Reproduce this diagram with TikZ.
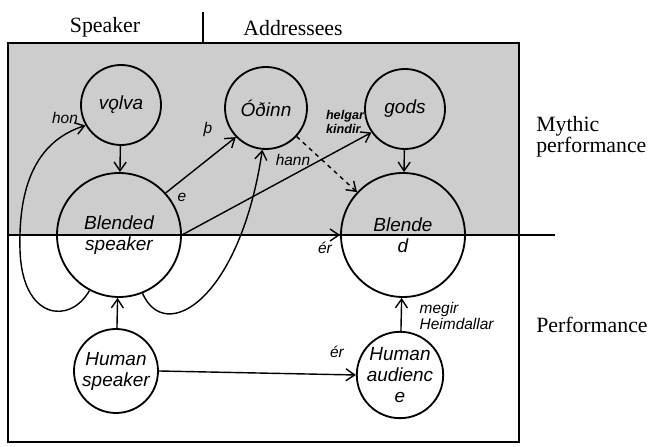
\documentclass[tikz,border=0pt]{standalone}
\usepackage{fontspec}
\setmainfont{Liberation Serif}
\setsansfont{Liberation Sans}
\usepackage{tikz}
\usetikzlibrary{arrows.meta, positioning}
\definecolor{mythgray}{HTML}{CDCDCD}

\begin{document}
\begin{tikzpicture}[
    space/.style={circle, draw, line width=1.3pt, inner sep=0pt, align=center,
                  minimum size=#1, font=\sffamily\itshape\fontsize{13.5}{15}\selectfont},
    space/.default=2cm,
    lbl/.style={font=\sffamily\itshape\fontsize{11}{12}\selectfont, inner sep=1pt},
    head/.style={font=\fontsize{15.5}{13}\selectfont, inner sep=0pt, align=left},
    arrow/.style={-{Straight Barb[length=2.2mm, width=3mm]}, line width=1pt}
]
\useasboundingbox (0,0) rectangle (16.325,11.175);

% Mythic performance area and frame
\fill[mythgray] (0.2,5.3) rectangle (12.975,10.1);
\draw[line width=1.4pt] (0.2,0.125) rectangle (12.975,10.1);
\draw[line width=1.1pt] (0.2,5.3) -- (13.875,5.3);
\draw[line width=1.1pt] (5.075,10.1) -- (5.075,10.875);

% Column and row headings
\node[head] at (2.625,10.5) (hspeaker) {Speaker};
\node[head] at (7.325,10.475) (haddr) {Addressees};
\node[head, anchor=west] at (13.4,7.75) (hmythic) {Mythic\\performance};
\node[head, anchor=west] at (13.4,3.05) (hperf) {Performance};

% Mental spaces
\node[space] at (3.025,8.55) (volva) {vǫlva};
\node[space=2.05cm] at (6.65,8.475) (odinn) {Óðinn};
\node[space] at (10.125,8.45) (gods) {gods};
\node[space=3.1cm] at (2.975,5.3) (bspk) {Blended\\speaker};
\node[space=3.1cm] at (10.075,5.3) (bld) {Blende\\d};
\node[space=2.1cm] at (2.9,1.9) (hspk) {Human\\speaker};
\node[space=2.1cm] at (10.0,1.8) (haud) {Human\\audienc\\e};

% Arrows
\draw[arrow] (volva) -- (bspk);
\draw[arrow] (gods) -- (bld);
\draw[arrow] (bspk.42) -- (odinn.224);
\draw[arrow] (bspk.east) -- (gods.215);
\draw[arrow] (bspk.east) -- (bld.west);
\draw[arrow, dashed] (odinn.-43) -- (bld.137);
\draw[arrow] (hspk) -- (bspk);
\draw[arrow] (haud) -- (bld);
\draw[arrow] (hspk.east) -- (haud.west);

% Loops
\draw[arrow] (bspk.242) .. controls (1.75,3.05) and (0.55,3.175) .. (0.5,4.925)
    .. controls (0.45,6.675) and (1.0,7.675) .. (volva.210);
\draw[arrow] (bspk.-68) .. controls (4.125,2.55) and (6.0,3.675) .. (odinn.265);

% Labels
\node[lbl] at (1.625,8.225) (lhon) {hon};
\node[lbl] at (5.2,7.925) (lthu) {þ};
\node[lbl] at (4.55,6.25) (le) {e};
\node[lbl] at (7.325,7.175) (lhann) {hann};
\node[lbl, font=\sffamily\bfseries\itshape\fontsize{9}{10}\selectfont, align=left]
    at (8.625,8.125) (lkindir) {helgar\\kindir};
\node[lbl] at (8.125,4.975) (ler) {ér};
\node[lbl] at (8.425,2.375) (ler2) {ér};
\node[lbl, anchor=west, align=left] at (10.45,3.275) (lmegir) {megir\\Heimdallar};

\end{tikzpicture}
\end{document}
